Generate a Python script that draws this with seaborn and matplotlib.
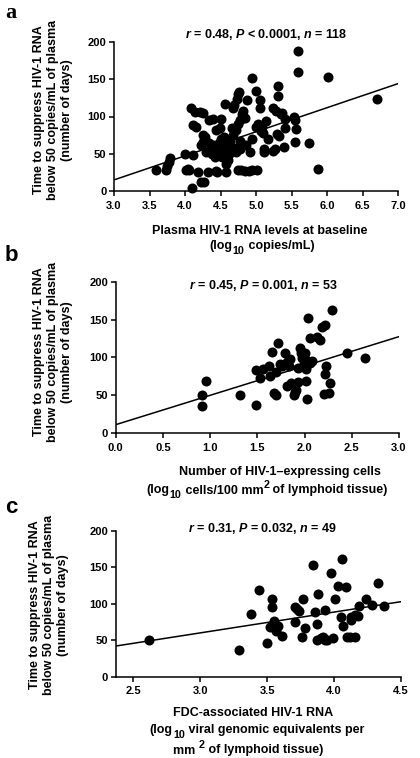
import matplotlib
matplotlib.use('Agg')
import matplotlib.pyplot as plt
import seaborn as sns
import pandas as pd
import numpy as np

# ---------------- data ----------------
a_x = [3.59, 3.73, 3.74, 3.77, 3.79, 4.00, 4.01, 4.04, 4.11, 4.10,
       4.19, 4.22, 4.27, 4.32, 4.09, 4.14, 4.21, 4.26, 4.11, 4.16,
       4.34, 4.39, 4.51, 4.25, 4.28, 4.26, 4.23, 4.34, 4.39, 4.42,
       4.44, 4.49, 4.45, 4.58, 4.61, 4.58, 4.30, 4.35, 4.38, 4.42,
       4.47, 4.53, 4.58, 4.62, 4.50, 4.55, 4.56, 4.67, 4.69, 4.73,
       4.75, 4.76, 4.62, 4.66, 4.70, 4.64, 4.68, 4.72, 4.66, 4.74,
       4.78, 4.80, 4.82, 4.84, 4.77, 4.74, 4.79, 4.85, 4.90, 4.95,
       5.02, 4.87, 4.95, 5.00, 5.05, 5.05, 4.72, 4.78, 4.91, 4.86,
       4.95, 5.00, 5.03, 5.07, 5.09, 5.10, 5.11, 5.11, 5.14, 5.17,
       5.24, 5.28, 5.31, 5.31, 5.24, 5.27, 5.30, 5.33, 5.35, 5.37,
       5.39, 5.41, 5.41, 5.54, 5.55, 5.56, 5.55, 5.59, 5.59, 5.74,
       5.88, 6.02, 6.70, 4.48, 4.52, 4.44, 4.55, 4.06]
a_y = [28, 28, 33, 39, 44, 49, 28, 30, 48, 4,
       26, 12, 12, 26, 111, 106, 106, 105, 89, 86,
       95, 96, 97, 75, 72, 66, 62, 64, 62, 58,
       82, 84, 26, 25, 42, 36, 52, 55, 50, 45,
       52, 60, 66, 62, 70, 73, 117, 111, 116, 124,
       130, 133, 50, 55, 58, 67, 75, 82, 85, 90,
       95, 103, 107, 98, 67, 28, 28, 27, 27, 28,
       28, 122, 152, 134, 122, 112, 53, 57, 53, 62,
       70, 86, 90, 80, 86, 78, 52, 56, 94, 70,
       112, 107, 141, 127, 54, 56, 77, 74, 103, 105,
       59, 97, 85, 99, 95, 83, 66, 188, 160, 64,
       29, 153, 123, 65, 46, 27, 55, 28]

b_x = [0.91, 0.91, 0.96, 1.32, 1.49,
       1.49, 1.53, 1.56, 1.62, 1.63, 1.65, 1.70, 1.72, 1.76, 1.79,
       1.81, 1.83, 1.85, 1.81, 1.86, 1.89, 1.91, 1.93, 1.95, 1.96,
       1.97, 1.99, 2.00, 2.02, 2.01, 2.02, 2.03, 2.06, 2.06, 2.04,
       2.13, 2.16, 2.18, 2.22, 2.22, 2.23, 2.27, 2.26, 2.21, 2.29,
       2.45, 2.64, 1.70, 1.68, 1.93, 1.90, 2.08, 1.74]
b_y = [36, 50.5, 69, 49.7, 36.5,
       83.5, 72.5, 85, 89, 75, 107, 81, 119, 88, 106,
       94.5, 88, 97.6, 61.5, 66, 50.5, 57, 68, 112, 106,
       99, 91.4, 105.5, 96.7, 84.4, 69, 45, 93, 125, 152.5,
       127.5, 123, 140.7, 143, 78, 88, 66, 52.7, 52, 162,
       105.5, 99, 50.5, 53, 86, 54, 95, 91]

c_x = [2.62, 3.29, 3.38, 3.44, 3.50, 3.52, 3.54, 3.54, 3.55, 3.58,
       3.57, 3.61, 3.71, 3.74, 3.77, 3.71, 3.78, 3.76, 3.84, 3.86,
       3.87, 3.88, 3.93, 3.87, 3.90, 3.92, 3.93, 3.99, 3.98, 4.01,
       4.03, 4.06, 4.09, 4.05, 4.07, 4.13, 4.16, 4.13, 4.12, 4.16,
       4.19, 4.24, 4.28, 4.33, 4.37, 3.72, 3.95, 4.10, 4.18]
c_y = [50, 36, 86, 119, 46, 68, 107, 96, 77, 70,
       63, 56, 95, 90, 107, 75, 67, 54, 153, 89,
       73, 113, 91, 51, 53, 54, 51, 53, 142, 106,
       125, 161, 123, 82, 69, 82, 85, 78, 54, 55,
       97, 106, 98, 128, 97, 93, 50, 54, 84]

# fitted regression lines (intercept, slope)
fit_intercepts = [-82.0, 11.0, -25.7]
fit_slopes = [32.3, 38.8, 28.6]

stats_text = [r'$\mathit{r}$ = 0.48, $\mathit{P}$ < 0.0001, $\mathit{n}$ = 118',
              r'$\mathit{r}$ = 0.45, $\mathit{P}$ = 0.001, $\mathit{n}$ = 53',
              r'$\mathit{r}$ = 0.31, $\mathit{P}$ = 0.032, $\mathit{n}$ = 49']
panel_letters = ['a', 'b', 'c']
y_label = 'Time to suppress HIV-1 RNA\nbelow 50 copies/mL of plasma\n(number of days)'
# x-label lines: each line is a list of (text, kind) with kind 'n' normal, 'sub', 'sup'
x_labels = [
    [[('Plasma HIV-1 RNA levels at baseline', 'n')],
     [('(log', 'n'), ('10', 'sub'), (' copies/mL)', 'n')]],
    [[('Number of HIV-1–expressing cells', 'n')],
     [('(log', 'n'), ('10', 'sub'), (' cells/100 mm', 'n'), ('2', 'sup'),
      (' of lymphoid tissue)', 'n')]],
    [[('FDC-associated HIV-1 RNA', 'n')],
     [('(log', 'n'), ('10', 'sub'), (' viral genomic equivalents per', 'n')],
     [('mm ', 'n'), ('2', 'sup'), (' of lymphoid tissue)', 'n')]],
]
x_ticks = [[3.0, 3.5, 4.0, 4.5, 5.0, 5.5, 6.0, 6.5, 7.0],
           [0.0, 0.5, 1.0, 1.5, 2.0, 2.5, 3.0],
           [2.5, 3.0, 3.5, 4.0, 4.5]]
y_ticks = [0, 50, 100, 150, 200]
x_limits = [(3.0, 7.0), (0.0, 3.0), (2.37, 4.5)]

# ---------------- style ----------------
sns.set_theme(style='ticks')
plt.rcParams['font.family'] = ['Liberation Sans', 'DejaVu Sans']
plt.rcParams['font.weight'] = 'bold'
plt.rcParams['mathtext.fontset'] = 'custom'
plt.rcParams['mathtext.rm'] = 'Liberation Sans:bold'
plt.rcParams['mathtext.bf'] = 'Liberation Sans:bold'
plt.rcParams['mathtext.it'] = 'Liberation Sans:italic:bold'
plt.rcParams['axes.linewidth'] = 1.1

W, H = 420, 758
fig = plt.figure(figsize=(W / 100, H / 100), dpi=100)
renderer = fig.canvas.get_renderer()

def box(l, t, r, b):
    return [l / W, 1 - b / H, (r - l) / W, (b - t) / H]

FS = 9
FS_PX = FS * 100 / 72

def rich_line(cx, cy, pieces):
    """Place a line of text pieces (with sub/superscripts) centred at (cx, cy) px."""
    made = []
    total = 0.0
    for s, kind in pieces:
        size = FS if kind == 'n' else FS * 0.85
        t = fig.text(0, 0, s, fontsize=size, fontweight='bold', ha='left',
                     va='baseline', color='black')
        w = t.get_window_extent(renderer).width
        made.append((t, w, kind))
        total += w
    x = cx - total / 2
    base = cy + 0.36 * FS_PX
    for t, w, kind in made:
        dy = 0
        if kind == 'sub':
            dy = 4.5
        elif kind == 'sup':
            dy = -5
        t.set_position((x / W, 1 - (base + dy) / H))
        x += w

rects = [box(114, 42, 398, 191), box(115.7, 281.7, 399, 433), box(115.7, 531, 401, 676.7)]
datasets = [(a_x, a_y), (b_x, b_y), (c_x, c_y)]
title_pos = [(0.535, 1.047), (0.52, 0.978), (0.513, 1.02)]
ylab_pos = [(53, 110), (53, 352), (49, 605)]
xlab_lines = [[(260, 229), (262, 245)],
              [(280, 470), (267, 489)],
              [(253, 712), (257, 729), (248, 749)]]
letter_pos = [(5, 18, 'Liberation Serif', 16), (5, 261, 'Liberation Sans', 16),
              (5, 513, 'Liberation Sans', 16)]

for i in range(3):
    ax = fig.add_axes(rects[i])
    df = pd.DataFrame({'x': datasets[i][0], 'y': datasets[i][1]})
    sns.scatterplot(data=df, x='x', y='y', ax=ax, color='black', s=52,
                    edgecolor='black', linewidth=0, clip_on=False, zorder=3)
    xl = np.array(x_limits[i])
    ax.plot(xl, fit_intercepts[i] + fit_slopes[i] * xl, color='black', lw=1.1, zorder=2)
    ax.set_xlim(*x_limits[i])
    ax.set_ylim(0, 200)
    ax.set_xticks(x_ticks[i])
    ax.set_xticklabels([f'{v:.1f}' for v in x_ticks[i]])
    ax.set_yticks(y_ticks)
    ax.set_yticklabels([str(v) for v in y_ticks])
    ax.tick_params(axis='both', labelsize=8, length=3.5, width=1.1, color='black',
                   labelcolor='black')
    ax.tick_params(axis='x', pad=3.5)
    ax.tick_params(axis='y', pad=2)
    for lab in ax.get_xticklabels() + ax.get_yticklabels():
        lab.set_fontweight('bold')
    ax.set_xlabel('')
    ax.set_ylabel('')
    sns.despine(ax=ax)
    for s in ['left', 'bottom']:
        ax.spines[s].set_color('black')
    ax.set_facecolor('white')
    ax.text(title_pos[i][0], title_pos[i][1], stats_text[i], transform=ax.transAxes,
            ha='center', va='center', fontsize=FS, fontweight='bold', color='black')
    fig.text(ylab_pos[i][0] / W, 1 - ylab_pos[i][1] / H, y_label, rotation=90,
             ha='center', va='center', fontsize=FS, fontweight='bold',
             linespacing=1.25, multialignment='center', color='black')
    for (px, py), line in zip(xlab_lines[i], x_labels[i]):
        rich_line(px, py, line)
    lx, ly, fam, fs = letter_pos[i]
    fig.text(lx / W, 1 - ly / H, panel_letters[i], ha='left', va='baseline',
             fontsize=fs, fontweight='bold', family=fam, color='black')

fig.savefig('out.png', dpi=100, facecolor='white')
